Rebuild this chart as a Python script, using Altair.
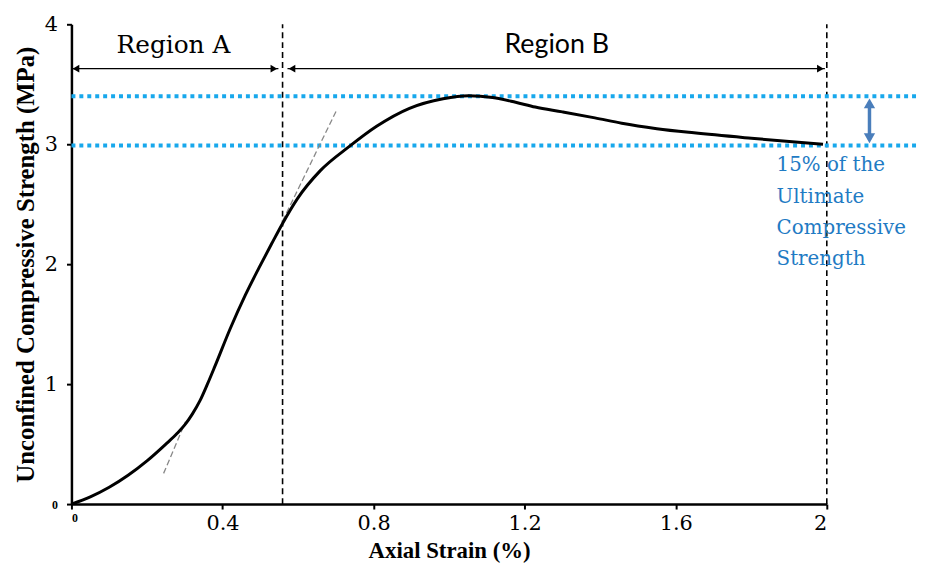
import altair as alt
import pandas as pd

# Stress-strain curve
strain = [0, 0.05, 0.10, 0.15, 0.20, 0.25, 0.28, 0.30, 0.32, 0.34, 0.36, 0.38, 0.42, 0.46,
          0.50, 0.53, 0.559, 0.598, 0.659, 0.735, 0.808, 0.895, 0.984, 1.052, 1.115, 1.176,
          1.228, 1.30, 1.386, 1.457, 1.55, 1.648, 1.8, 1.99]
strength = [0, 0.06, 0.14, 0.24, 0.36, 0.50, 0.59, 0.66, 0.75, 0.86, 1.0, 1.15, 1.46, 1.74,
            1.99, 2.17, 2.34, 2.545, 2.78, 2.98, 3.15, 3.30, 3.38, 3.405, 3.39, 3.35,
            3.31, 3.27, 3.22, 3.175, 3.13, 3.095, 3.05, 3.0]

# Tangent (gray dashed) segments
tan_x = [0.244, 0.302]
tan_y = [0.256, 0.686]
tan2_x = [0.559, 0.703]
tan2_y = [2.36, 3.29]

# Region boundaries
boundary_x = [0.559, 2.0]
# Strength levels (peak and 85%)
level_y = [3.40, 2.99]
level_x_end = 2.24

region_labels = ["Region A", "Region B"]
region_label_x = [0.27, 1.285]
region_label_y = [3.83, 3.83]
arrow_y = 3.63
arrow_a = [0.0, 0.548]
arrow_b = [0.572, 1.995]

note_lines = ["15% of the", "Ultimate", "Compressive", "Strength"]
note_y = [2.83, 2.56, 2.30, 2.04]
note_x = 1.867
dbl_arrow_x = 2.113

SERIF_B = "Liberation Serif"
SERIF_R = "DejaVu Serif"

xs = alt.Scale(domain=[0, 2], nice=False, zero=False)
ys = alt.Scale(domain=[0, 4], nice=False, zero=False)

curve_df = pd.DataFrame({"x": strain, "y": strength})
curve = alt.Chart(curve_df).mark_line(color="black", strokeWidth=3, interpolate="monotone").encode(
    x=alt.X("x:Q", scale=xs, axis=alt.Axis(
        title="Axial Strain (%)", values=[0, 0.4, 0.8, 1.2, 1.6, 2.0],
        labelExpr="datum.value == 0 ? '0' : format(datum.value, '.1~f')",
        labelFont={"condition": {"test": "datum.value == 0", "value": SERIF_B}, "value": SERIF_R},
        labelColor="black",
        labelFontSize={"condition": {"test": "datum.value == 0", "value": 12}, "value": 21},
        labelFontWeight={"condition": {"test": "datum.value == 0", "value": "bold"}, "value": "normal"},
        titleFont=SERIF_B, titleFontSize=23, titleFontWeight="bold", titleColor="black",
        titlePadding=6, grid=False, domainColor="black", domainWidth=2.5,
        tickColor="black", tickWidth=2, tickSize=5, labelPadding=4)),
    y=alt.Y("y:Q", scale=ys, axis=alt.Axis(
        title="Unconfined Compressive Strength (MPa)", values=[0, 1, 2, 3, 4], format="d",
        labelFont={"condition": {"test": "datum.value == 0", "value": SERIF_B}, "value": SERIF_R},
        labelColor="black",
        labelFontSize={"condition": {"test": "datum.value == 0", "value": 12}, "value": 21},
        labelFontWeight={"condition": {"test": "datum.value == 0", "value": "bold"}, "value": "normal"},
        titleFont=SERIF_B, titleFontSize=25, titleFontWeight="bold", titleColor="black",
        titlePadding=6, grid=False, domainColor="black", domainWidth=2.5,
        tickColor="black", tickWidth=2, tickSize=5, labelPadding=9)),
)

tan_df = pd.DataFrame({"x": tan_x + tan2_x, "y": tan_y + tan2_y, "seg": ["a", "a", "b", "b"]})
tangent = alt.Chart(tan_df).mark_line(color="#888888", strokeWidth=1.3, strokeDash=[6, 3]).encode(
    x=alt.X("x:Q", scale=xs), y=alt.Y("y:Q", scale=ys), detail="seg:N")

bound_df = pd.DataFrame({"x": boundary_x, "y0": [0, 0], "y1": [4, 4]})
bounds = alt.Chart(bound_df).mark_rule(color="black", strokeWidth=1.6, strokeDash=[6, 4]).encode(
    x=alt.X("x:Q", scale=xs), y=alt.Y("y0:Q", scale=ys), y2="y1:Q")

level_df = pd.DataFrame({"y": level_y, "x0": [0, 0], "x1": [level_x_end, level_x_end]})
levels = alt.Chart(level_df).mark_rule(color="#18a8ec", strokeWidth=4, strokeDash=[4, 4], clip=False).encode(
    y=alt.Y("y:Q", scale=ys), x=alt.X("x0:Q", scale=xs), x2="x1:Q")

arr_df = pd.DataFrame({"x0": [arrow_a[0], arrow_b[0]], "x1": [arrow_a[1], arrow_b[1]], "y": [arrow_y, arrow_y]})
arr_lines = alt.Chart(arr_df).mark_rule(color="black", strokeWidth=1.3).encode(
    x=alt.X("x0:Q", scale=xs), x2="x1:Q", y=alt.Y("y:Q", scale=ys))
heads_l = pd.DataFrame({"x": [arrow_a[0] + 0.012, arrow_b[0] + 0.012], "y": [arrow_y, arrow_y]})
heads_r = pd.DataFrame({"x": [arrow_a[1] - 0.012, arrow_b[1] - 0.012], "y": [arrow_y, arrow_y]})
hl = alt.Chart(heads_l).mark_point(shape="triangle-left", filled=True, color="black", size=60, opacity=1).encode(
    x=alt.X("x:Q", scale=xs), y=alt.Y("y:Q", scale=ys))
hr = alt.Chart(heads_r).mark_point(shape="triangle-right", filled=True, color="black", size=60, opacity=1).encode(
    x=alt.X("x:Q", scale=xs), y=alt.Y("y:Q", scale=ys))

reg_df = pd.DataFrame({"label": region_labels, "x": region_label_x, "y": region_label_y})
reg_a = alt.Chart(reg_df.iloc[[0]]).mark_text(font=SERIF_R, fontSize=25, color="black").encode(
    x=alt.X("x:Q", scale=xs), y=alt.Y("y:Q", scale=ys), text="label:N")
reg_b = alt.Chart(reg_df.iloc[[1]]).mark_text(font="Lato", fontSize=27, color="black").encode(
    x=alt.X("x:Q", scale=xs), y=alt.Y("y:Q", scale=ys), text="label:N")

dbl_df = pd.DataFrame({"x": [dbl_arrow_x], "y0": [level_y[1] + 0.05], "y1": [level_y[0] - 0.05]})
dbl_line = alt.Chart(dbl_df).mark_rule(color="#4a7ebb", strokeWidth=3.5, clip=False).encode(
    x=alt.X("x:Q", scale=xs), y=alt.Y("y0:Q", scale=ys), y2="y1:Q")
dbl_heads = pd.DataFrame({"x": [dbl_arrow_x, dbl_arrow_x], "y": [level_y[0] - 0.06, level_y[1] + 0.06]})
dbl_up = alt.Chart(dbl_heads.iloc[[0]]).mark_point(shape="triangle-up", filled=True, color="#4a7ebb",
                                                    size=130, opacity=1, clip=False).encode(
    x=alt.X("x:Q", scale=xs), y=alt.Y("y:Q", scale=ys))
dbl_dn = alt.Chart(dbl_heads.iloc[[1]]).mark_point(shape="triangle-down", filled=True, color="#4a7ebb",
                                                    size=130, opacity=1, clip=False).encode(
    x=alt.X("x:Q", scale=xs), y=alt.Y("y:Q", scale=ys))

note_df = pd.DataFrame({"t": note_lines, "y": note_y, "x": [note_x] * 4})
note = alt.Chart(note_df).mark_text(font=SERIF_R, fontSize=20, color="#1f7bc4",
                                     align="left", clip=False).encode(
    x=alt.X("x:Q", scale=xs), y=alt.Y("y:Q", scale=ys), text="t:N")

chart = alt.layer(bounds, levels, tangent, curve, arr_lines, hl, hr, reg_a, reg_b,
                  dbl_line, dbl_up, dbl_dn, note).properties(
    width=762, height=484,
    autosize=alt.AutoSizeParams(type="none"),
    padding={"left": 64, "top": 14, "right": 92, "bottom": 58},
    background="white",
).configure_view(stroke=None)

chart.save("out.html", embed_options={"renderer": "svg", "actions": False})
